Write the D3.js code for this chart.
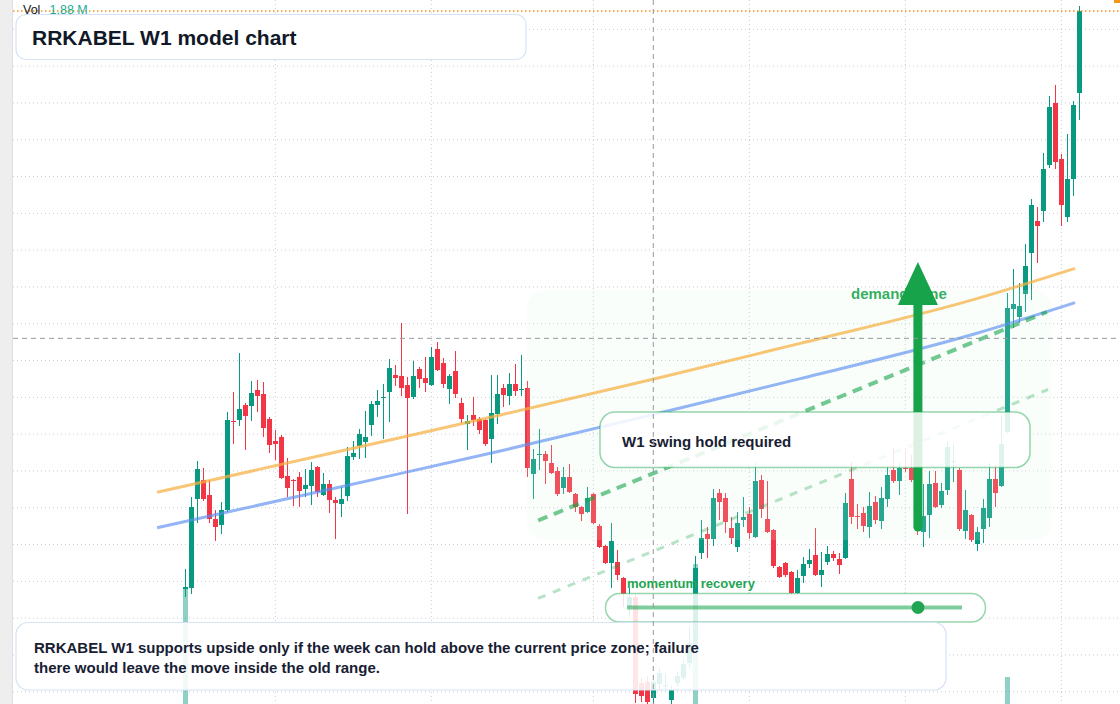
<!DOCTYPE html>
<html>
<head>
<meta charset="utf-8">
<script src="https://cdn.jsdelivr.net/npm/d3@7"></script>
<style>
  html, body { margin:0; padding:0; background:#fff; overflow:hidden; }
  svg { display:block; font-family:"Liberation Sans", Arial, sans-serif; }
</style>
</head>
<body>
<svg id="chart"></svg>
<script>

// weekly candles, RRKABEL W1 (index = week number)
var open = [1116.5,1118,1251.5,1280,1257.5,1221.5,1212.5,1235,1368.5,1370,
  1392.5,1391,1415,1409,1371.5,1338.5,1344.5,1286,1280,1284.5,
  1266.5,1271,1299.5,1257.5,1274,1250,1244,1256,1314.5,1331,
  1337,1362.5,1392.5,1403,1412,1437.5,1436,1422.5,1404.5,1446.5,
  1433,1422.5,1476.5,1455.5,1416.5,1443.5,1395.5,1364,1377.5,1371.5,
  1370,1341.5,1379,1418,1406,1424,1415,1418,1289,1317.5,
  1319,1305.5,1293.5,1268,1284.5,1259,1239.5,1232,1259,1211,
  1181,1155.5,1157,1133,1089.5,1104.5,975.5,977,953,974,
  971,950,975.5,983,1005.5,1032.5,1170.5,1199,1191.5,1260.5,
  1253,1208,1179.5,1220,1229,1194.5,1280,1221.5,1205,1149.5,
  1155.5,1142,1110.5,1136,1154,1167.5,1137.5,1157,1169,1161.5,
  1163,1281.5,1226,1230.5,1209.5,1247,1218.5,1251.5,1295,1278.5,
  1298,1298,1283,1202,1227.5,1275.5,1242.5,1265,1307,1295,
  1203.5,1227.5,1184,1206.5,1223,1281.5,1271,1352,1536.5,1524.5,
  1559,1620.5,1668.5,1683.5,1752.5,1845.5,1761.5,1674.5,1731.5,1860.5];

var high = [1146.5,1254.5,1308.5,1298,1280,1235,1247,1382,1412,1470.5,
  1395.5,1428.5,1430,1427,1374.5,1355,1347.5,1313,1281.5,1292,
  1296.5,1307,1301,1290.5,1280,1254.5,1269.5,1329.5,1338.5,1356.5,
  1383.5,1398.5,1415,1424,1461.5,1452.5,1515.5,1434.5,1458.5,1449.5,
  1464.5,1479.5,1487,1463,1439,1473.5,1403,1377.5,1404.5,1374.5,
  1371.5,1437.5,1437.5,1424,1440.5,1454,1467.5,1428.5,1326.5,1356.5,
  1323.5,1332.5,1299.5,1299.5,1304,1260.5,1241,1269.5,1260.5,1214,
  1182.5,1215.5,1175,1134.5,1118,1109,983,986,987.5,998,
  990.5,971,992,1010,1059.5,1166,1220,1209.5,1266.5,1266.5,
  1260.5,1224.5,1232,1254.5,1239.5,1305.5,1287.5,1278.5,1206.5,1151,
  1157,1143.5,1145,1164.5,1176.5,1208,1172,1181,1173.5,1170.5,
  1260.5,1307,1244,1239.5,1262,1256,1269.5,1299.5,1328,1305.5,
  1328,1317.5,1295,1274,1293.5,1293.5,1275.5,1337,1334,1298,
  1265,1229,1209.5,1251.5,1305.5,1302.5,1376,1560.5,1596.5,1575.5,
  1634,1701.5,1689.5,1770.5,1856,1872.5,1769,1799,1848.5,1991];

var low = [1104.5,1109,1215.5,1248.5,1215.5,1188.5,1199,1232,1334,1361,
  1325,1368.5,1382,1344.5,1320.5,1310,1281.5,1254.5,1241,1239.5,
  1254.5,1242.5,1254.5,1256,1230.5,1191.5,1224.5,1248.5,1310,1311.5,
  1313,1346,1374.5,1341.5,1367,1421,1406,1229,1401.5,1418,
  1412,1421,1443.5,1418,1394,1403,1365.5,1325,1361,1349,
  1331,1305.5,1364,1389.5,1392.5,1406,1406,1284.5,1251.5,1295,
  1274,1289,1256,1259,1260.5,1232,1218.5,1230.5,1214,1178,
  1154,1118,1130,1089.5,1074.5,945.5,947,941,944,965,
  965,944,971,980,998,1025,1161.5,1163,1181,1220,
  1200.5,1184,1172,1209.5,1191.5,1193,1223,1200.5,1148,1133,
  1134.5,1109,1109,1125.5,1148,1136,1119.5,1152.5,1158.5,1139,
  1161.5,1214,1206.5,1202,1193,1214,1206.5,1239.5,1275.5,1257.5,
  1292,1277,1197.5,1179.5,1193,1238,1238,1257.5,1277,1203.5,
  1191.5,1187,1173.5,1185.5,1209.5,1239.5,1269.5,1350.5,1508,1515.5,
  1532,1550,1605.5,1667,1748,1746.5,1661,1667,1706,1820];

var close = [1119.5,1239.5,1296.5,1251.5,1221.5,1209.5,1235,1370,1367,1386.5,
  1376,1410.5,1406,1358,1332.5,1334,1283,1268,1278.5,1263.5,
  1272.5,1295,1262,1274,1250,1245.5,1251.5,1316,1320.5,1349,
  1344.5,1394,1398.5,1404.5,1448,1433,1418,1403,1436,1431.5,
  1425.5,1464.5,1445,1424,1436,1409,1371.5,1368.5,1370,1355,
  1334,1380.5,1409,1407.5,1424,1413.5,1416.5,1298,1311.5,1319,
  1308.5,1290.5,1259,1284.5,1262,1239.5,1229,1253,1215.5,1179.5,
  1155.5,1188.5,1137.5,1109,1104.5,959,956,947,977,990.5,
  972.5,965,986,1004,1035.5,1148,1193,1191.5,1253,1247,
  1217,1193,1215.5,1224.5,1200.5,1278.5,1236.5,1202,1151,1134.5,
  1137.5,1110.5,1133,1154,1160,1137.5,1145,1169,1163,1152.5,
  1245.5,1224.5,1224.5,1211,1241,1220,1253,1287.5,1278.5,1298,
  1296.5,1280,1205,1226,1274,1239.5,1263.5,1329.5,1308.5,1206.5,
  1235,1190,1202,1238,1281.5,1260.5,1334,1538,1544,1541,
  1601,1692.5,1661,1746.5,1839.5,1757,1692.5,1731.5,1842.5,1983.5];

// volume in millions
var volume = [8.6,2.4,1.6,0.9,0.8,0.6,0.7,2.2,1.1,1.4,
  0.9,0.8,0.6,0.9,0.8,0.5,1.0,0.7,0.5,0.6,
  0.5,0.7,0.6,0.4,0.6,0.7,0.5,1.2,0.5,0.6,
  0.8,0.9,0.6,0.7,1.1,0.6,1.3,1.5,0.9,0.6,
  0.7,1.0,0.8,0.7,0.6,0.9,0.8,0.6,0.5,0.5,
  0.7,1.2,0.9,0.5,0.6,0.6,0.8,2.1,1.3,0.8,
  0.7,0.6,0.9,0.6,0.7,0.8,0.6,0.7,1.0,1.1,
  1.2,1.6,0.9,1.3,1.1,2.6,1.5,1.4,1.2,0.9,
  0.8,1.0,0.8,0.9,1.6,9.8,2.4,1.2,1.9,1.0,
  1.1,0.8,1.0,0.7,0.9,1.7,1.2,1.0,1.3,0.7,
  0.6,0.9,0.8,0.7,0.6,1.0,0.8,0.6,0.5,0.6,
  1.5,1.3,0.7,0.6,0.8,0.7,0.9,1.1,1.0,0.8,
  0.7,0.6,1.2,0.9,1.0,0.8,0.7,1.4,0.9,1.3,
  0.9,0.8,0.6,0.9,1.2,0.8,1.6,4.15,2.2,1.5,
  1.9,2.4,1.6,2.0,2.5,2.3,1.8,1.7,2.2,1.88];

// half-year marks on the time axis (week index)
var timeMarks = [15, 41, 68, 94, 120, 146];

// trend curves [week, price]
var upperTrend = [[-4.7,1261.5],[25,1321.5],[52.5,1377.5],[79,1433.5],[102.5,1485],[131.5,1551],[148.3,1597.5]];
var lowerTrend = [[-4.7,1208.5],[25.8,1269.5],[52.5,1323.5],[79,1380.5],[102.5,1432],[131.5,1499],[148.3,1546]];
var recoveryLine = [[58.8,1219.25],[143.6,1532]];
var recoveryBand = [[58.8,1102.5],[143.8,1415.75]];

var demandZone = {from:56.95, to:144.45, top:1565, bottom:1190};
var targetArrow = {week:122.1, from:1205, to:1607};
var crosshair = {week:78, price:1492.5};

var screen = {width:1120, height:704};

var svg = d3.select("#chart").attr("width",screen.width).attr("height",screen.height);

var xScale = d3.scaleLinear().domain([0,149]).range([185.3,1079.3]);
var yScale = d3.scaleLinear().domain([2000,944]).range([0,704]);
var vScale = d3.scaleLinear().domain([0,38]).range([760,0]);

var upColor = "#089981", downColor = "#f23645";
var green = "#16a34a";

svg.append("rect").attr("width",screen.width).attr("height",screen.height).attr("fill","#fff");

// left price-scale strip
svg.append("rect").attr("x",0).attr("y",0).attr("width",12).attr("height",screen.height).attr("fill","#eeeeee");
svg.append("line").attr("x1",12.5).attr("x2",12.5).attr("y1",0).attr("y2",screen.height)
  .attr("stroke","#e0e0e0");

// grid
var grid = svg.append("g").attr("id","grid");
grid.selectAll(".hgrid")
  .data(d3.range(1956.05, 940, -55.2))
  .enter().append("line")
  .attr("x1",13).attr("x2",screen.width)
  .attr("y1",function(d){return yScale(d);})
  .attr("y2",function(d){return yScale(d);})
  .attr("stroke","#c9cdd3").attr("stroke-dasharray","1,3");
grid.selectAll(".vgrid")
  .data(timeMarks)
  .enter().append("line")
  .attr("x1",function(d){return xScale(d);})
  .attr("x2",function(d){return xScale(d);})
  .attr("y1",0).attr("y2",screen.height)
  .attr("stroke","#c9cdd3").attr("stroke-dasharray","1,3");

var idx = d3.range(open.length);
var isUp = function(i){ return close[i] >= open[i]; };
var bx = function(i){ return Math.round(xScale(i) - 2.5); };

// volume
svg.append("g").attr("id","volume")
  .selectAll("rect").data(idx).enter().append("rect")
  .attr("x",bx).attr("width",5)
  .attr("y",function(i){return vScale(volume[i]);})
  .attr("height",function(i){return vScale(0) - vScale(volume[i]);})
  .attr("fill",function(i){return isUp(i) ? "rgba(8,153,129,0.45)" : "rgba(242,54,69,0.45)";})
  .attr("shape-rendering","crispEdges");

// candles
var candles = svg.append("g").attr("id","candles").attr("shape-rendering","crispEdges");
candles.selectAll(".wick").data(idx).enter().append("rect")
  .attr("x",function(i){return bx(i) + 2;}).attr("width",1)
  .attr("y",function(i){return yScale(high[i]);})
  .attr("height",function(i){return yScale(low[i]) - yScale(high[i]);})
  .attr("fill",function(i){return isUp(i) ? upColor : downColor;});
candles.selectAll(".body").data(idx).enter().append("rect")
  .attr("x",bx).attr("width",5)
  .attr("y",function(i){return yScale(Math.max(open[i],close[i]));})
  .attr("height",function(i){return Math.max(1, Math.abs(yScale(open[i]) - yScale(close[i])));})
  .attr("fill",function(i){return isUp(i) ? upColor : downColor;});

// demand zone shading
svg.append("rect")
  .attr("x",xScale(demandZone.from)).attr("width",xScale(demandZone.to) - xScale(demandZone.from))
  .attr("y",yScale(demandZone.top)).attr("height",yScale(demandZone.bottom) - yScale(demandZone.top))
  .attr("rx",18)
  .attr("fill","rgba(220,245,228,0.15)");

var curve = d3.line()
  .x(function(d){return xScale(d[0]);})
  .y(function(d){return yScale(d[1]);})
  .curve(d3.curveMonotoneX);

svg.append("path").attr("d",curve(upperTrend)).attr("fill","none")
  .attr("stroke","#f5b041").attr("stroke-opacity",0.72).attr("stroke-width",3);
svg.append("path").attr("d",curve(lowerTrend)).attr("fill","none")
  .attr("stroke","#5b8def").attr("stroke-opacity",0.65).attr("stroke-width",3);
svg.append("path").attr("d",curve(recoveryLine)).attr("fill","none")
  .attr("stroke",green).attr("stroke-opacity",0.6).attr("stroke-width",4)
  .attr("stroke-dasharray","10,7");
svg.append("path").attr("d",curve(recoveryBand)).attr("fill","none")
  .attr("stroke",green).attr("stroke-opacity",0.3).attr("stroke-width",3)
  .attr("stroke-dasharray","8,8");

svg.append("text").attr("x",851).attr("y",298.5)
  .attr("font-size",15).attr("font-weight","bold").attr("fill","rgba(22,163,74,0.88)")
  .text("demand zone");

// target arrow
var ax = xScale(targetArrow.week);
var headBase = yScale(targetArrow.to) + 43;
svg.append("line").attr("x1",ax).attr("x2",ax)
  .attr("y1",yScale(targetArrow.from) - 3).attr("y2",headBase)
  .attr("stroke",green).attr("stroke-width",9).attr("stroke-linecap","round");
svg.append("path")
  .attr("d","M"+(ax-20)+","+headBase+"L"+(ax+20)+","+headBase+"L"+ax+","+yScale(targetArrow.to)+"Z")
  .attr("fill",green);

// callout boxes
var boxGreen = "rgba(22,163,74,0.45)";
var boxBlue = "#d6e3f5";
var ink = "#172033";

svg.append("rect").attr("x",600).attr("y",412).attr("width",430).attr("height",55.5).attr("rx",15)
  .attr("fill","rgba(255,255,255,0.85)").attr("stroke",boxGreen).attr("stroke-width",1.5);
svg.append("text").attr("x",622).attr("y",447).attr("font-size",15).attr("font-weight","bold")
  .attr("fill",ink).text("W1 swing hold required");

svg.append("text").attr("x",627).attr("y",587.5).attr("font-size",13).attr("font-weight","bold")
  .attr("fill","#22a552").text("momentum recovery");
svg.append("rect").attr("x",605.5).attr("y",593.5).attr("width",380).attr("height",28.5).attr("rx",14)
  .attr("fill","rgba(255,255,255,0.85)").attr("stroke",boxGreen).attr("stroke-width",1.5);
svg.append("line").attr("x1",627).attr("x2",962).attr("y1",607.5).attr("y2",607.5)
  .attr("stroke",green).attr("stroke-opacity",0.55).attr("stroke-width",4);
svg.append("circle").attr("cx",918).attr("cy",607.5).attr("r",6.5).attr("fill","#22a552");

svg.append("rect").attr("x",16).attr("y",622.5).attr("width",930).attr("height",67.5).attr("rx",12)
  .attr("fill","rgba(255,255,255,0.88)").attr("stroke",boxBlue).attr("stroke-width",1.2);
var note = svg.append("text").attr("font-size",15).attr("font-weight","bold").attr("fill",ink);
note.append("tspan").attr("x",34).attr("y",653)
  .text("RRKABEL W1 supports upside only if the week can hold above the current price zone; failure");
note.append("tspan").attr("x",34).attr("y",673)
  .text("there would leave the move inside the old range.");

svg.append("rect").attr("x",16).attr("y",14.5).attr("width",510).attr("height",45).attr("rx",10)
  .attr("fill","#fff").attr("stroke",boxBlue).attr("stroke-width",1.2);
svg.append("text").attr("x",32).attr("y",44.5).attr("font-size",21).attr("font-weight","bold")
  .attr("fill","#111827").text("RRKABEL W1 model chart");

// last price line
var last = close[close.length - 1];
svg.append("line").attr("x1",13).attr("x2",screen.width)
  .attr("y1",yScale(last)).attr("y2",yScale(last))
  .attr("stroke","#f7931a").attr("stroke-width",1.5).attr("stroke-dasharray","1.5,2.5");
svg.append("rect").attr("x",1114).attr("y",0).attr("width",6).attr("height",3).attr("fill","#f7931a");

// volume legend
var legend = svg.append("text").attr("y",13.5).attr("font-size",12.5);
legend.append("tspan").attr("x",23).attr("fill","#131722").text("Vol");
legend.append("tspan").attr("x",49.5).attr("fill","#22ab94").text("1.88 M");

// crosshair
svg.append("line").attr("x1",xScale(crosshair.week)).attr("x2",xScale(crosshair.week))
  .attr("y1",0).attr("y2",screen.height)
  .attr("stroke","#9598a1").attr("stroke-dasharray","5,4");
svg.append("line").attr("x1",13).attr("x2",screen.width)
  .attr("y1",yScale(crosshair.price)).attr("y2",yScale(crosshair.price))
  .attr("stroke","#9598a1").attr("stroke-dasharray","5,4");

</script>
</body>
</html>
